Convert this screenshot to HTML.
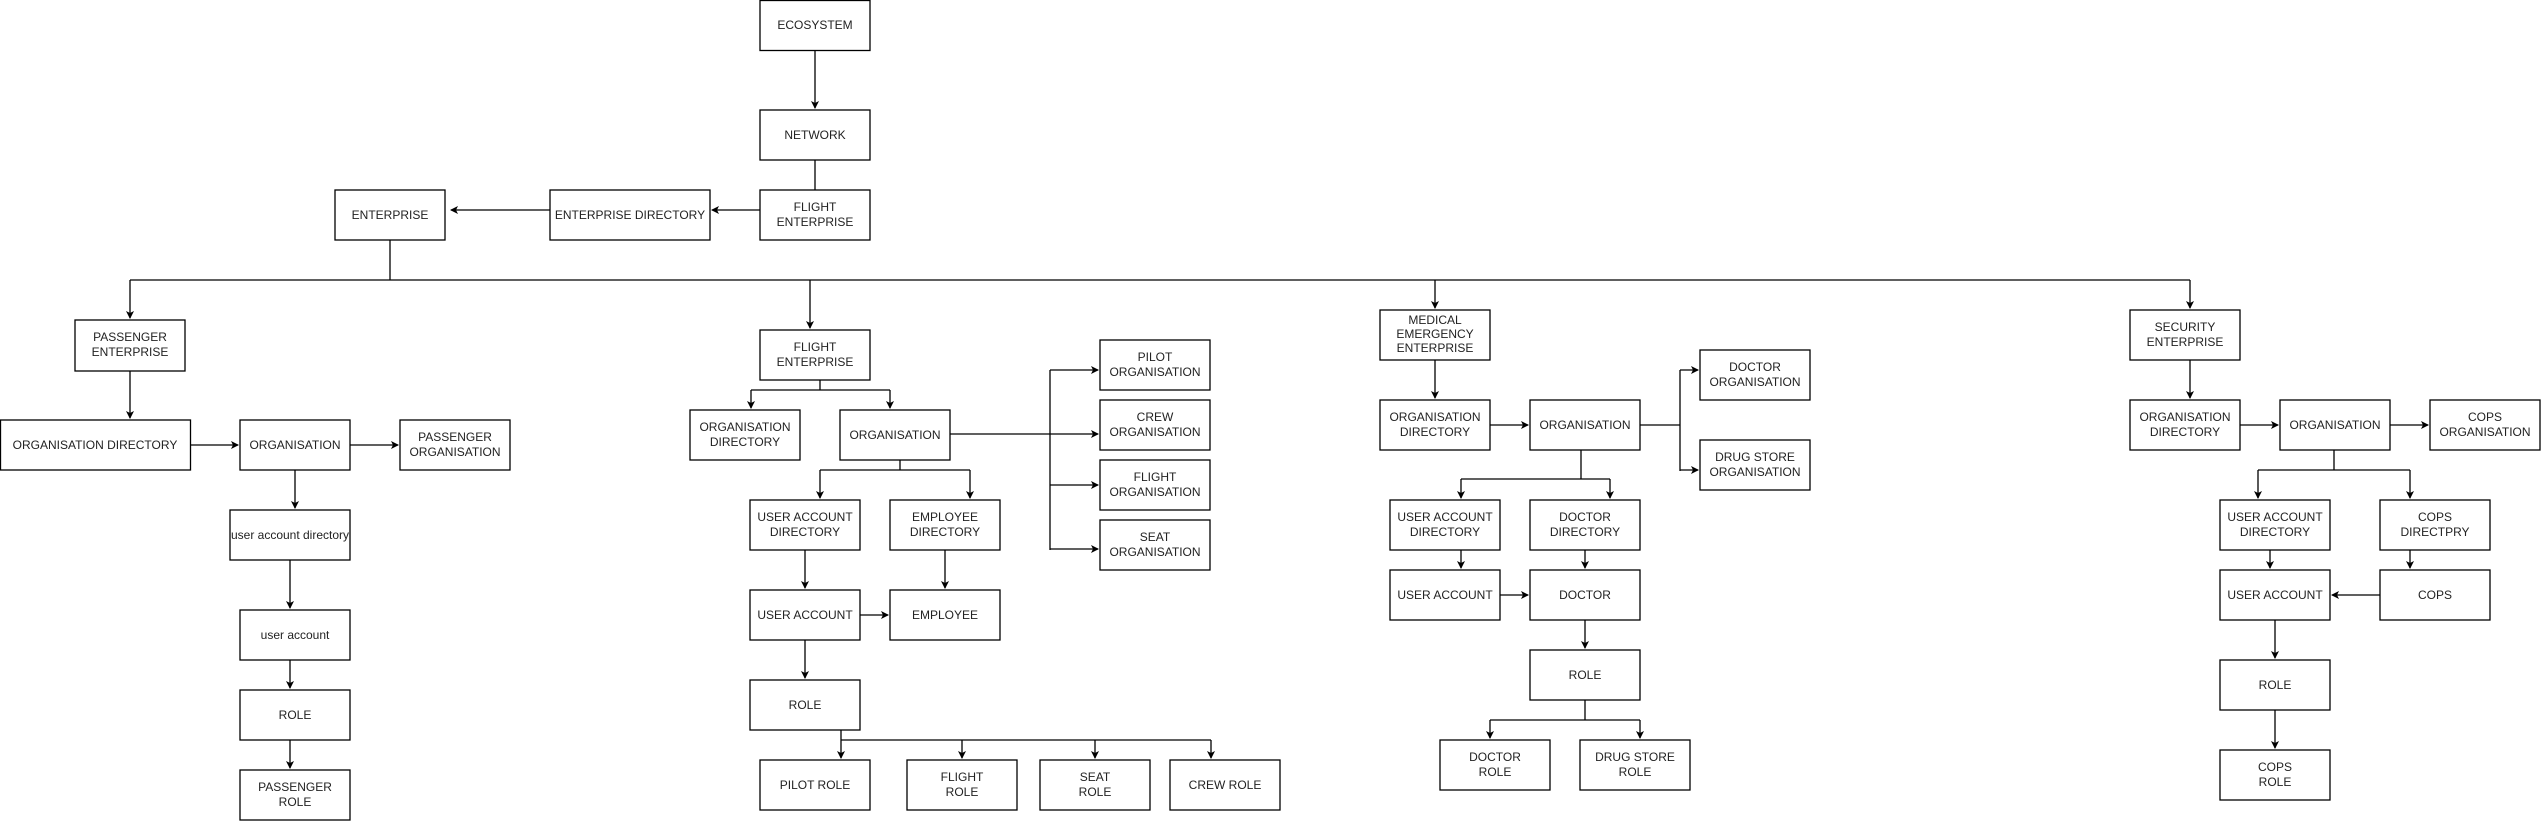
<!DOCTYPE html>
<html><head><meta charset="utf-8"><style>
html,body{margin:0;padding:0;background:#fff}
svg{display:block}
text{font-family:"Liberation Sans",Arial,sans-serif;font-size:12px;fill:#222;text-anchor:middle}
rect{fill:#fff;stroke:#000;stroke-width:1.3}
.l{fill:none;stroke:#000;stroke-width:1.3}
</style></head><body>
<svg width="2541" height="821" viewBox="0 0 2541 821" xmlns="http://www.w3.org/2000/svg">
<defs><marker id="a" markerWidth="8" markerHeight="8" refX="7" refY="4" orient="auto" markerUnits="userSpaceOnUse"><path d="M0,0 L8,4 L0,8 L2,4 Z" fill="#000"/></marker></defs>

<!-- connectors -->
<g class="l">
<path d="M815,50 V108" marker-end="url(#a)"/>
<path d="M815,160 V190"/>
<path d="M760,210 H712" marker-end="url(#a)"/>
<path d="M550,210 H451" marker-end="url(#a)"/>
<path d="M390,240 V280"/>
<path d="M130,280 H2190"/>
<path d="M130,280 V318" marker-end="url(#a)"/>
<path d="M810,280 V328" marker-end="url(#a)"/>
<path d="M1435,280 V308" marker-end="url(#a)"/>
<path d="M2190,280 V308" marker-end="url(#a)"/>
<!-- passenger -->
<path d="M130,371 V418" marker-end="url(#a)"/>
<path d="M190,445 H238" marker-end="url(#a)"/>
<path d="M350,445 H398" marker-end="url(#a)"/>
<path d="M295,470 V508" marker-end="url(#a)"/>
<path d="M290,560 V608" marker-end="url(#a)"/>
<path d="M290,660 V688" marker-end="url(#a)"/>
<path d="M290,740 V768" marker-end="url(#a)"/>
<!-- flight -->
<path d="M820,380 V390 M751,390 H890 M751,390 V408" marker-end="url(#a)"/>
<path d="M890,390 V408" marker-end="url(#a)"/>
<path d="M950,434 H1050 M1050,370 V550"/>
<path d="M1050,370 H1098" marker-end="url(#a)"/>
<path d="M1050,434 H1098" marker-end="url(#a)"/>
<path d="M1050,485 H1098" marker-end="url(#a)"/>
<path d="M1050,549 H1098" marker-end="url(#a)"/>
<path d="M900,460 V470 M820,470 H970 M820,470 V498" marker-end="url(#a)"/>
<path d="M970,470 V498" marker-end="url(#a)"/>
<path d="M805,540 V588" marker-end="url(#a)"/>
<path d="M945,550 V588" marker-end="url(#a)"/>
<path d="M860,615 H888" marker-end="url(#a)"/>
<path d="M805,640 V678" marker-end="url(#a)"/>
<path d="M841,730 V740 H1211 M841,740 V758" marker-end="url(#a)"/>
<path d="M962,740 V758" marker-end="url(#a)"/>
<path d="M1095,740 V758" marker-end="url(#a)"/>
<path d="M1211,740 V758" marker-end="url(#a)"/>
<!-- medical -->
<path d="M1435,360 V398" marker-end="url(#a)"/>
<path d="M1490,425 H1528" marker-end="url(#a)"/>
<path d="M1640,425 H1680 M1680,370 V471"/>
<path d="M1680,370 H1698" marker-end="url(#a)"/>
<path d="M1680,470 H1698" marker-end="url(#a)"/>
<path d="M1581,450 V479 M1461,479 H1610 M1461,479 V498" marker-end="url(#a)"/>
<path d="M1610,479 V498" marker-end="url(#a)"/>
<path d="M1461,550 V568" marker-end="url(#a)"/>
<path d="M1585,550 V568" marker-end="url(#a)"/>
<path d="M1500,595 H1528" marker-end="url(#a)"/>
<path d="M1585,620 V648" marker-end="url(#a)"/>
<path d="M1585,700 V720 M1490,720 H1640 M1490,720 V738" marker-end="url(#a)"/>
<path d="M1640,720 V738" marker-end="url(#a)"/>
<!-- security -->
<path d="M2190,360 V398" marker-end="url(#a)"/>
<path d="M2240,425 H2278" marker-end="url(#a)"/>
<path d="M2390,425 H2428" marker-end="url(#a)"/>
<path d="M2334,450 V470 M2258,470 H2410 M2258,470 V498" marker-end="url(#a)"/>
<path d="M2410,470 V498" marker-end="url(#a)"/>
<path d="M2270,550 V568" marker-end="url(#a)"/>
<path d="M2410,550 V568" marker-end="url(#a)"/>
<path d="M2380,595 H2332" marker-end="url(#a)"/>
<path d="M2275,620 V658" marker-end="url(#a)"/>
<path d="M2275,710 V748" marker-end="url(#a)"/>
</g>

<!-- boxes -->
<g>
<rect x="760" y="0.5" width="110" height="50"/><text x="815" y="29">ECOSYSTEM</text>
<rect x="760" y="110" width="110" height="50"/><text x="815" y="139">NETWORK</text>
<rect x="760" y="190" width="110" height="50"/><text x="815" y="211">FLIGHT</text><text x="815" y="226">ENTERPRISE</text>
<rect x="550" y="190" width="160" height="50"/><text x="630" y="219">ENTERPRISE DIRECTORY</text>
<rect x="335" y="190" width="110" height="50"/><text x="390" y="219">ENTERPRISE</text>

<rect x="75" y="320" width="110" height="51"/><text x="130" y="341">PASSENGER</text><text x="130" y="356">ENTERPRISE</text>
<rect x="0.5" y="420" width="190" height="50"/><text x="95" y="449">ORGANISATION DIRECTORY</text>
<rect x="240" y="420" width="110" height="50"/><text x="295" y="449">ORGANISATION</text>
<rect x="400" y="420" width="110" height="50"/><text x="455" y="441">PASSENGER</text><text x="455" y="456">ORGANISATION</text>
<rect x="230" y="510" width="120" height="50"/><text x="290" y="539">user account directory</text>
<rect x="240" y="610" width="110" height="50"/><text x="295" y="639">user account</text>
<rect x="240" y="690" width="110" height="50"/><text x="295" y="719">ROLE</text>
<rect x="240" y="770" width="110" height="50"/><text x="295" y="791">PASSENGER</text><text x="295" y="806">ROLE</text>

<rect x="760" y="330" width="110" height="50"/><text x="815" y="351">FLIGHT</text><text x="815" y="366">ENTERPRISE</text>
<rect x="690" y="410" width="110" height="50"/><text x="745" y="431">ORGANISATION</text><text x="745" y="446">DIRECTORY</text>
<rect x="840" y="410" width="110" height="50"/><text x="895" y="439">ORGANISATION</text>
<rect x="1100" y="340" width="110" height="50"/><text x="1155" y="361">PILOT</text><text x="1155" y="376">ORGANISATION</text>
<rect x="1100" y="400" width="110" height="50"/><text x="1155" y="421">CREW</text><text x="1155" y="436">ORGANISATION</text>
<rect x="1100" y="460" width="110" height="50"/><text x="1155" y="481">FLIGHT</text><text x="1155" y="496">ORGANISATION</text>
<rect x="1100" y="520" width="110" height="50"/><text x="1155" y="541">SEAT</text><text x="1155" y="556">ORGANISATION</text>
<rect x="750" y="500" width="110" height="50"/><text x="805" y="521">USER ACCOUNT</text><text x="805" y="536">DIRECTORY</text>
<rect x="890" y="500" width="110" height="50"/><text x="945" y="521">EMPLOYEE</text><text x="945" y="536">DIRECTORY</text>
<rect x="750" y="590" width="110" height="50"/><text x="805" y="619">USER ACCOUNT</text>
<rect x="890" y="590" width="110" height="50"/><text x="945" y="619">EMPLOYEE</text>
<rect x="750" y="680" width="110" height="50"/><text x="805" y="709">ROLE</text>
<rect x="760" y="760" width="110" height="50"/><text x="815" y="789">PILOT ROLE</text>
<rect x="907" y="760" width="110" height="50"/><text x="962" y="781">FLIGHT</text><text x="962" y="796">ROLE</text>
<rect x="1040" y="760" width="110" height="50"/><text x="1095" y="781">SEAT</text><text x="1095" y="796">ROLE</text>
<rect x="1170" y="760" width="110" height="50"/><text x="1225" y="789">CREW ROLE</text>

<rect x="1380" y="310" width="110" height="50"/><text x="1435" y="324">MEDICAL</text><text x="1435" y="338">EMERGENCY</text><text x="1435" y="352">ENTERPRISE</text>
<rect x="1380" y="400" width="110" height="50"/><text x="1435" y="421">ORGANISATION</text><text x="1435" y="436">DIRECTORY</text>
<rect x="1530" y="400" width="110" height="50"/><text x="1585" y="429">ORGANISATION</text>
<rect x="1700" y="350" width="110" height="50"/><text x="1755" y="371">DOCTOR</text><text x="1755" y="386">ORGANISATION</text>
<rect x="1700" y="440" width="110" height="50"/><text x="1755" y="461">DRUG STORE</text><text x="1755" y="476">ORGANISATION</text>
<rect x="1390" y="500" width="110" height="50"/><text x="1445" y="521">USER ACCOUNT</text><text x="1445" y="536">DIRECTORY</text>
<rect x="1530" y="500" width="110" height="50"/><text x="1585" y="521">DOCTOR</text><text x="1585" y="536">DIRECTORY</text>
<rect x="1390" y="570" width="110" height="50"/><text x="1445" y="599">USER ACCOUNT</text>
<rect x="1530" y="570" width="110" height="50"/><text x="1585" y="599">DOCTOR</text>
<rect x="1530" y="650" width="110" height="50"/><text x="1585" y="679">ROLE</text>
<rect x="1440" y="740" width="110" height="50"/><text x="1495" y="761">DOCTOR</text><text x="1495" y="776">ROLE</text>
<rect x="1580" y="740" width="110" height="50"/><text x="1635" y="761">DRUG STORE</text><text x="1635" y="776">ROLE</text>

<rect x="2130" y="310" width="110" height="50"/><text x="2185" y="331">SECURITY</text><text x="2185" y="346">ENTERPRISE</text>
<rect x="2130" y="400" width="110" height="50"/><text x="2185" y="421">ORGANISATION</text><text x="2185" y="436">DIRECTORY</text>
<rect x="2280" y="400" width="110" height="50"/><text x="2335" y="429">ORGANISATION</text>
<rect x="2430" y="400" width="110" height="50"/><text x="2485" y="421">COPS</text><text x="2485" y="436">ORGANISATION</text>
<rect x="2220" y="500" width="110" height="50"/><text x="2275" y="521">USER ACCOUNT</text><text x="2275" y="536">DIRECTORY</text>
<rect x="2380" y="500" width="110" height="50"/><text x="2435" y="521">COPS</text><text x="2435" y="536">DIRECTPRY</text>
<rect x="2220" y="570" width="110" height="50"/><text x="2275" y="599">USER ACCOUNT</text>
<rect x="2380" y="570" width="110" height="50"/><text x="2435" y="599">COPS</text>
<rect x="2220" y="660" width="110" height="50"/><text x="2275" y="689">ROLE</text>
<rect x="2220" y="750" width="110" height="50"/><text x="2275" y="771">COPS</text><text x="2275" y="786">ROLE</text>
</g>
</svg>
</body></html>
